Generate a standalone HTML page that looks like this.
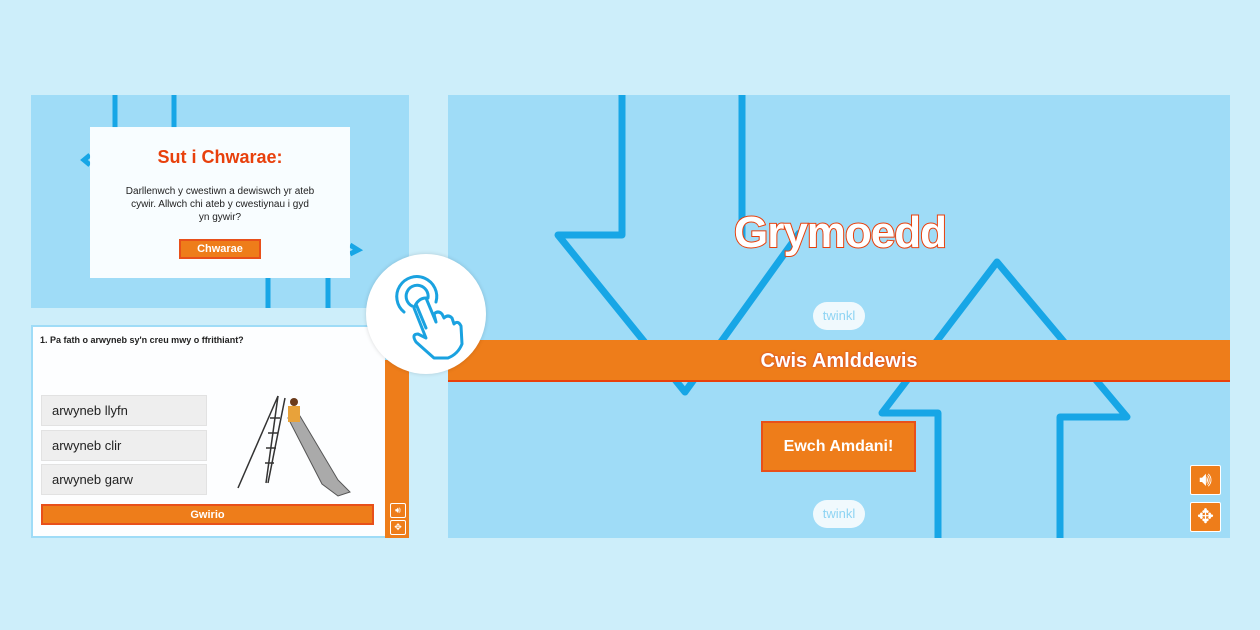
<!DOCTYPE html>
<html><head><meta charset="utf-8"><style>
*{margin:0;padding:0;box-sizing:border-box}
body{width:1260px;height:630px;background:#cdeefa;position:relative;overflow:hidden;font-family:"Liberation Sans",sans-serif}
.a{position:absolute}
.btn{position:absolute;background:#ee7d1a;border:2px solid #e8501a;color:#fff;font-weight:bold;text-align:center}
.opt{position:absolute;left:41px;width:166px;height:31px;background:#eeeeee;border:1px solid #e2e2e2;font-size:13px;color:#222;padding-left:10px;line-height:30px}
.ico{position:absolute;background:#ee7d1a;border:1px solid #fff;border-radius:2px;color:#fff;text-align:center}
</style></head><body>
<div class="a" style="left:448px;top:95px;width:782px;height:443px;background:#9fdcf7"></div>
<svg class="a" style="left:0;top:0" width="1260" height="630">
 <g fill="none" stroke="#17a6e6" stroke-width="7" stroke-linejoin="round">
  <polyline points="622,95 622,235 558,235 685,392 800,232"/>
  <polyline points="742,95 742,240"/>
  <polyline points="938,538 938,413 882,413 997,262 1127,417 1060,417 1060,538"/>
 </g>
 <rect x="31" y="95" width="378" height="213" fill="#9fdcf7"/>
 <g stroke="#17a6e6" stroke-width="5">
  <line x1="115" y1="95" x2="115" y2="128"/><line x1="174" y1="95" x2="174" y2="128"/>
  <line x1="268" y1="278" x2="268" y2="308"/><line x1="328" y1="278" x2="328" y2="308"/>
 </g>
 <g stroke="#17a6e6" stroke-width="5" fill="none">
  <polyline points="90,165 84,160 90,155"/><polyline points="350,245 358,250 350,254"/>
 </g>
</svg>
<div class="a" style="left:448px;top:340px;width:782px;height:42px;background:#ee7d1a;border-bottom:2px solid #e8400c;color:#fff;font-weight:bold;font-size:20px;text-align:center;line-height:42px;text-shadow:0 0 2px #c33">Cwis Amlddewis</div>
<div class="a" style="left:640px;top:208px;width:400px;text-align:center;font-size:44px;font-weight:bold;color:#fff;-webkit-text-stroke:2px #e8400c;paint-order:stroke;letter-spacing:-1px">Grymoedd</div>
<div class="btn" style="left:761px;top:421px;width:155px;height:51px;line-height:47px;font-size:16px">Ewch Amdani!</div>
<div class="a" style="left:813px;top:302px;width:52px;height:28px;background:#fff;border-radius:14px;opacity:.85;color:#8cd3f3;font-size:13px;text-align:center;line-height:28px">twinkl</div>
<div class="a" style="left:813px;top:500px;width:52px;height:28px;background:#fff;border-radius:14px;opacity:.85;color:#8cd3f3;font-size:13px;text-align:center;line-height:28px">twinkl</div>
<div class="ico" style="left:1190px;top:465px;width:31px;height:30px;font-size:20px;line-height:28px">🔊︎</div>
<div class="ico" style="left:1190px;top:502px;width:31px;height:30px;font-size:20px;line-height:28px">✥</div>
<div class="a" style="left:90px;top:127px;width:260px;height:151px;background:rgba(255,255,255,.93);text-align:center">
 <div style="margin-top:20px;color:#e8400c;font-weight:bold;font-size:18px">Sut i Chwarae:</div>
 <div style="margin:17px auto 0;width:190px;font-size:10px;line-height:13px;color:#222">Darllenwch y cwestiwn a dewiswch yr ateb cywir. Allwch chi ateb y cwestiynau i gyd yn gywir?</div>
</div>
<div class="btn" style="left:179px;top:239px;width:82px;height:20px;font-size:11px;line-height:16px">Chwarae</div>
<div class="a" style="left:31px;top:325px;width:378px;height:213px;background:#9fdcf7"></div>
<div class="a" style="left:33px;top:327px;width:352px;height:209px;background:#fdfeff"></div>
<div class="a" style="left:385px;top:360px;width:24px;height:178px;background:#ee7d1a"></div>
<div class="a" style="left:40px;top:335px;font-size:9px;font-weight:bold;color:#222">1. Pa fath o arwyneb sy'n creu mwy o ffrithiant?</div>
<div class="opt" style="top:395px">arwyneb llyfn</div>
<div class="opt" style="top:430px">arwyneb clir</div>
<div class="opt" style="top:464px">arwyneb garw</div>
<svg class="a" style="left:230px;top:388px" width="130" height="112">
 <g stroke="#333" stroke-width="1.5" fill="none">
  <line x1="48" y1="8" x2="8" y2="100"/><line x1="48" y1="8" x2="36" y2="95"/>
  <line x1="55" y1="10" x2="38" y2="95"/>
  <line x1="40" y1="30" x2="50" y2="30"/><line x1="38" y1="45" x2="48" y2="45"/><line x1="36" y1="60" x2="46" y2="60"/><line x1="35" y1="75" x2="44" y2="75"/>
 </g>
 <polygon points="58,30 70,28 108,92 120,104 108,108 92,96" fill="#aaa" stroke="#555"/>
 <circle cx="64" cy="14" r="4" fill="#6b3b1b"/>
 <rect x="58" y="18" width="12" height="16" fill="#e8a23a"/>
</svg>
<div class="btn" style="left:41px;top:504px;width:333px;height:21px;font-size:11px;line-height:18px">Gwirio</div>
<div class="ico" style="left:390px;top:503px;width:16px;height:15px;font-size:9px;line-height:13px">🔊︎</div>
<div class="ico" style="left:390px;top:520px;width:16px;height:15px;font-size:9px;line-height:13px">✥</div>
<div class="a" style="left:366px;top:254px;width:120px;height:120px;border-radius:50%;background:#fff;box-shadow:0 0 4px rgba(0,0,0,.15)"></div>
<svg class="a" style="left:366px;top:254px" width="120" height="120">
 <g fill="none" stroke="#1aa2e0" stroke-width="3" stroke-linecap="round" stroke-linejoin="round">
  <path d="M38,58 A20,20 0 1 1 70,48"/>
  <path d="M46,52 A11,11 0 1 1 62,44"/>
  <path d="M50,50 L60,74 M60,44 L70,68 M70,68 L68,60 Q72,56 76,60 L78,64 Q82,60 86,64 L88,70 Q92,66 95,72 L96,90 Q92,100 82,104 L68,104 L50,88 Q45,80 52,80 L60,84 L48,54 Q52,44 60,44"/>
 </g>
</svg>
</body></html>
